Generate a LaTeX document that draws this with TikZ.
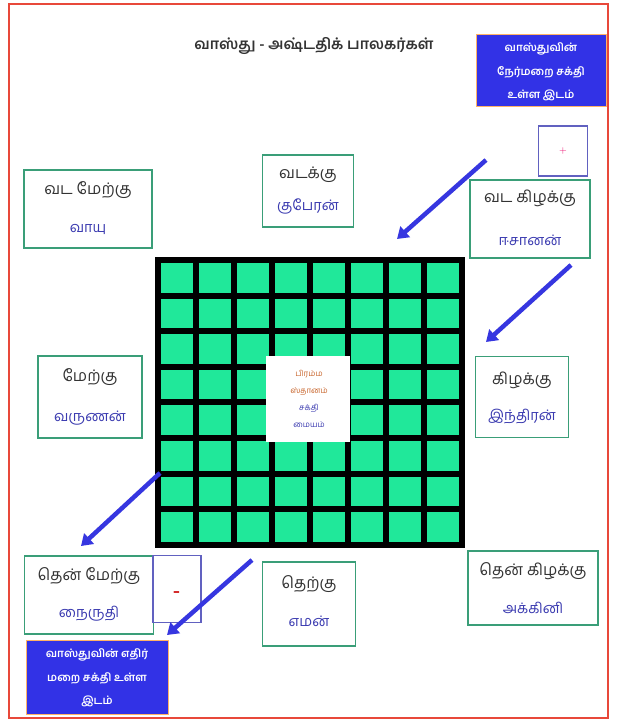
\documentclass[tikz,border=0pt]{standalone}
\usepackage{fontspec}
\newfontfamily\tam[Script=Tamil]{Hind Madurai}
\usetikzlibrary{arrows.meta}
\definecolor{gridgreen}{HTML}{20E89A}
\definecolor{boxgreen}{HTML}{3A9E78}
\definecolor{txtblue}{HTML}{3A3AB0}
\definecolor{txtdark}{HTML}{333333}
\definecolor{bluefill}{HTML}{3232E6}
\definecolor{redline}{HTML}{E8483A}
\definecolor{arrowblue}{HTML}{3636E0}
\definecolor{orangetxt}{HTML}{C8642A}
\tikzset{
  dirbox/.style={draw=boxgreen, line width=1.6pt, fill=white, inner sep=0pt},
  signbox/.style={draw=txtblue!80, line width=1.2pt, fill=white, inner sep=0pt},
  bluebox/.style={draw=orange!60, line width=1pt, fill=bluefill, inner sep=0pt},
  tone/.style={font=\tam\fontsize{16}{18}\selectfont, text=txtdark, inner sep=0pt},
  ttwo/.style={font=\tam\fontsize{14.5}{16}\selectfont, text=txtblue, inner sep=0pt},
  bluetxt/.style={font=\tam\fontsize{11}{23.5}\selectfont\bfseries, text=white, align=center, inner sep=0pt},
  bigarrow/.style={draw=arrowblue, line width=4.5pt, -{Triangle[length=11pt,width=14pt]}, shorten >=0pt}
}
\begin{document}
\begin{tikzpicture}[x=1pt,y=-1pt]
\useasboundingbox (0,0) rectangle (628,722);
\fill[white] (0,0) rectangle (628,722);
% outer red frame
\draw[redline, line width=1.8pt] (9,4) rectangle (608,718);
% title
\node[font=\tam\fontsize{15}{17}\selectfont\bfseries, text=txtdark, inner sep=0pt] (title) at (314,46) {வாஸ்து - அஷ்டதிக் பாலகர்கள்};
% grid
\fill[black] (155,257) rectangle (465,548);
\foreach \i in {0,...,7}{
  \foreach \j in {0,...,7}{
    \fill[gridgreen] ({161+\i*38},{263+\j*35.6}) rectangle ++(32,29.6);
  }
}
\node[fill=white, draw=none, minimum width=84pt, minimum height=86pt, inner sep=0pt] (centre) at (308,399) {};
\node[font=\tam\fontsize{8}{17}\selectfont, align=center, inner sep=0pt] (centretxt) at (309,399)
  {\textcolor{orangetxt}{பிரம்ம}\\\textcolor{orangetxt}{ஸ்தானம்}\\\textcolor{txtblue}{சக்தி}\\\textcolor{txtblue}{மையம்}};
% top right blue box
\node[bluebox, minimum width=130pt, minimum height=72pt] (pos) at (541,71) {};
\node[bluetxt] (postxt) at (541,72) {வாஸ்துவின்\\நேர்மறை சக்தி\\உள்ள இடம்};
% plus box
\node[signbox, minimum width=49pt, minimum height=50pt] (plus) at (563,151) {};
\node[text=magenta!70!red, font=\fontsize{10}{10}\selectfont, inner sep=0pt] (plussign) at (563,151) {+};
% direction boxes
\node[dirbox, minimum width=128pt, minimum height=78pt] (nw) at (88,209) {};
\node[tone] (nw1) at (88,190) {வட மேற்கு};
\node[ttwo] (nw2) at (88,229) {வாயு};
\node[dirbox, minimum width=91pt, minimum height=72pt] (n) at (308,191) {};
\node[tone] (n1) at (308,175) {வடக்கு};
\node[ttwo] (n2) at (308,206) {குபேரன்};
\node[dirbox, minimum width=120pt, minimum height=78pt] (ne) at (530,219) {};
\node[tone] (ne1) at (530,198) {வட கிழக்கு};
\node[ttwo] (ne2) at (530,240) {ஈசானன்};
\node[dirbox, minimum width=104pt, minimum height=82pt] (w) at (90,397) {};
\node[tone] (w1) at (90,377) {மேற்கு};
\node[ttwo] (w2) at (90,418) {வருணன்};
\node[dirbox, minimum width=93pt, minimum height=81pt] (e) at (522,397) {};
\node[tone] (e1) at (522,380) {கிழக்கு};
\node[ttwo] (e2) at (522,417) {இந்திரன்};
\node[dirbox, minimum width=129pt, minimum height=78pt] (sw) at (89,595) {};
\node[tone] (sw1) at (89,576) {தென் மேற்கு};
\node[ttwo] (sw2) at (89,614) {நைருதி};
\node[signbox, minimum width=48pt, minimum height=67pt] (minus) at (177,589) {};
\node[text=red!80!black, font=\bfseries\fontsize{18}{18}\selectfont, inner sep=0pt] (minussign) at (177,594) {-};
\node[dirbox, minimum width=93pt, minimum height=84pt] (s) at (309,604) {};
\node[tone] (s1) at (309,584) {தெற்கு};
\node[ttwo] (s2) at (309,621) {எமன்};
\node[dirbox, minimum width=130pt, minimum height=74pt] (se) at (533,588) {};
\node[tone] (se1) at (533,571) {தென் கிழக்கு};
\node[ttwo] (se2) at (533,608) {அக்கினி};
% bottom left blue box
\node[bluebox, minimum width=142pt, minimum height=74pt] (neg) at (97,677) {};
\node[bluetxt] (negtxt) at (97,678) {வாஸ்துவின் எதிர்\\மறை சக்தி உள்ள\\இடம்};
% arrows
\coordinate (a1s) at (486,160); \coordinate (a1e) at (397,239);
\coordinate (a2s) at (571,265); \coordinate (a2e) at (486,342);
\coordinate (a3s) at (160,473); \coordinate (a3e) at (81,546);
\coordinate (a4s) at (252,560); \coordinate (a4e) at (167,635);
\draw[bigarrow] (a1s) -- (a1e);
\draw[bigarrow] (a2s) -- (a2e);
\draw[bigarrow] (a3s) -- (a3e);
\draw[bigarrow] (a4s) -- (a4e);
\end{tikzpicture}
\end{document}
